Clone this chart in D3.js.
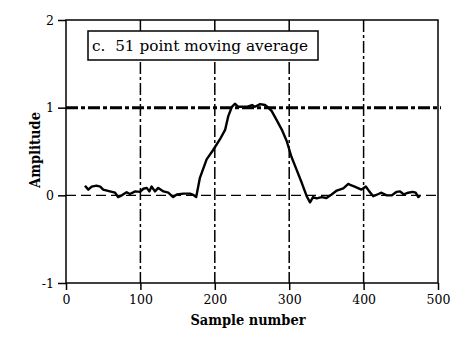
<!DOCTYPE html>
<html><head><meta charset="utf-8">
<script src="https://cdn.jsdelivr.net/npm/d3@7"></script>
<style>body{margin:0;background:#fff}svg{display:block}</style>
</head><body><svg id="c" width="474" height="352"></svg>
<script>
const sampleX = [25.5,30,34.5,41,46,50,59,66,70,75,81.5,86,93,99.5,104,108.5,112,115,119.6,124,131,137.5,144,149,158,166.7,171,175,180,189,198,207,214,218,223,227,231.6,243,250,254,261,267.5,272,276.5,283,290,296.6,303,310,317,323.5,328,332,337,343.6,350,357,364,372.7,379.4,382,388,397,403,407.6,413,420,424,431,438,444.5,449,454,460,466,470,473.5,475.8];
const amplitude = [0.11,0.065,0.10,0.11,0.10,0.065,0.045,0.03,-0.02,0,0.035,0.015,0.045,0.04,0.075,0.085,0.045,0.10,0.045,0.085,0.045,0.03,-0.02,0.01,0.02,0.02,0.005,-0.02,0.20,0.41,0.52,0.64,0.75,0.90,1.01,1.045,1.01,1.01,1.03,1.01,1.04,1.03,1.0,0.96,0.86,0.75,0.62,0.44,0.29,0.14,-0.01,-0.08,-0.02,-0.035,-0.02,-0.03,0.01,0.055,0.08,0.13,0.12,0.10,0.065,0.10,0.045,-0.01,0.015,0.03,0,0,0.04,0.045,0.01,0.03,0.04,0.03,-0.02,0];
const xTicks = [0,100,200,300,400,500];
const yTicks = [-1,0,1,2];
const xGrid = [100,200,300,400];
const legendText = "c.\u00a0\u00a051 point moving average";
const xLabel = "Sample number";
const yLabel = "Amplitude";

const svg = d3.select("#c");
const L=66,R=438,T=20,B=283;
const x = d3.scaleLinear().domain([0,500]).range([L,R]);
const y = d3.scaleLinear().domain([-1,2]).range([B,T]);
const font = "'DejaVu Serif', serif";
const fmt = d => String(d);

svg.selectAll(".vg").data(xGrid).enter().append("line")
  .attr("x1",d=>x(d)).attr("x2",d=>x(d)).attr("y1",T).attr("y2",B)
  .attr("stroke","#000").attr("stroke-width",1.5).attr("stroke-dasharray","12,3,3,3");
svg.append("line").attr("x1",L).attr("x2",R+3).attr("y1",y(0)).attr("y2",y(0))
  .attr("stroke","#000").attr("stroke-width",1.3).attr("stroke-dasharray","10,5");
svg.append("line").attr("x1",L).attr("x2",R+3).attr("y1",y(1)).attr("y2",y(1))
  .attr("stroke","#000").attr("stroke-width",3).attr("stroke-dasharray","12,3,4,3");

svg.append("rect").attr("x",L).attr("y",T).attr("width",R-L).attr("height",B-T)
  .attr("fill","none").attr("stroke","#000").attr("stroke-width",1.5);

const xa = svg.append("g").attr("transform",`translate(0,${B})`)
  .call(d3.axisBottom(x).tickValues(xTicks).tickSize(7).tickPadding(5).tickFormat(fmt));
const ya = svg.append("g").attr("transform",`translate(${L},0)`)
  .call(d3.axisLeft(y).tickValues(yTicks).tickSize(8).tickPadding(4).tickFormat(fmt));
[xa,ya].forEach(a=>{
  a.attr("font-family",null);
  a.select(".domain").remove();
  a.selectAll("line").attr("stroke","#000").attr("stroke-width",1.5);
  a.selectAll("text").style("font-family",font).style("font-size","12.5px").attr("fill","#000");
});

svg.append("path").datum(sampleX.map((d,i)=>[d,amplitude[i]]))
  .attr("d",d3.line().x(d=>x(d[0])).y(d=>y(d[1])))
  .attr("fill","none").attr("stroke","#000").attr("stroke-width",2.4).attr("stroke-linejoin","round");

svg.append("rect").attr("x",88).attr("y",31).attr("width",230).attr("height",29)
  .attr("fill","#fff").attr("stroke","#000").attr("stroke-width",1.5);
svg.append("text").attr("x",92).attr("y",51)
  .style("font-family",font).style("font-size","15px")
  .attr("textLength",216).attr("lengthAdjust","spacingAndGlyphs").text(legendText);

svg.append("text").attr("x",248).attr("y",325).attr("text-anchor","middle")
  .style("font-family",font).style("font-size","15px").style("font-weight","bold")
  .attr("textLength",115).attr("lengthAdjust","spacingAndGlyphs").text(xLabel);
svg.append("text").attr("transform","translate(40,150) rotate(-90)").attr("text-anchor","middle")
  .style("font-family",font).style("font-size","15px").style("font-weight","bold")
  .attr("textLength",76).attr("lengthAdjust","spacingAndGlyphs").text(yLabel);
</script></body></html>
